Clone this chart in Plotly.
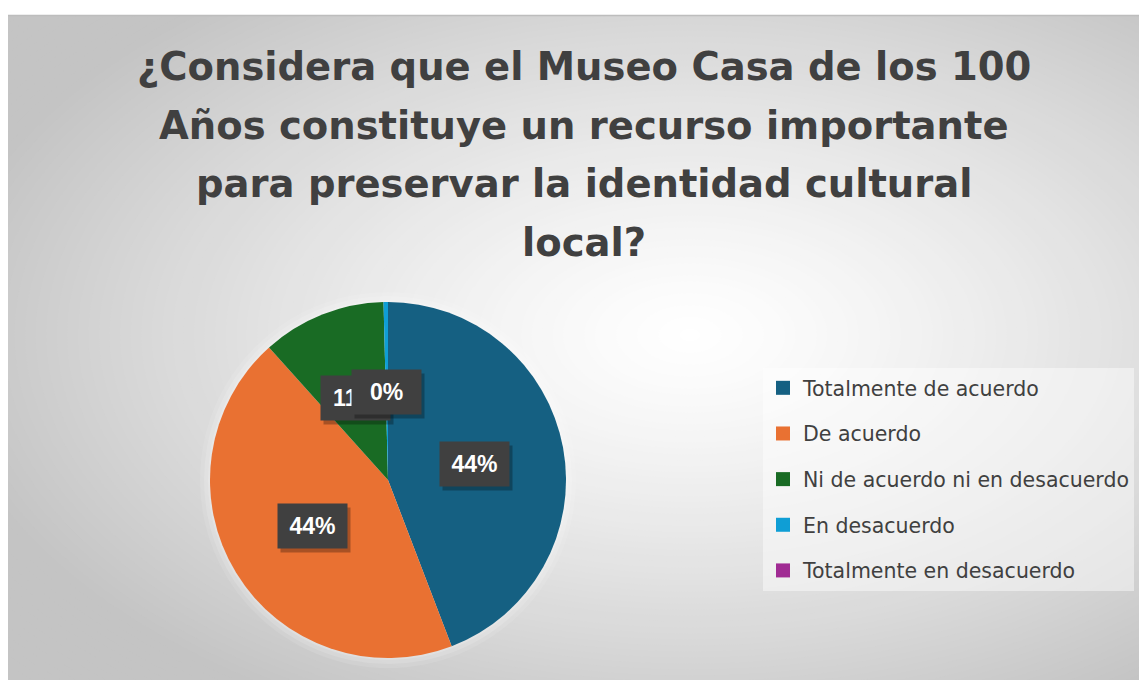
import math
import plotly.graph_objects as go

# ---- data ----
categories = [
    "Totalmente de acuerdo",
    "De acuerdo",
    "Ni de acuerdo ni en desacuerdo",
    "En desacuerdo",
    "Totalmente en desacuerdo",
]
values = [110, 110, 28, 1, 0]
colors = ["#156082", "#E97132", "#196B24", "#0F9ED5", "#A02B93"]
title_lines = [
    "¿Considera que el Museo Casa de los 100",
    "Años constituye un recurso importante",
    "para preservar la identidad cultural",
    "local?",
]

# ---- layout constants (pixels in the 1147x680 window) ----
OFF = 8                     # page body margin
W, H = 1147 - OFF, 680 - OFF
FY0 = 15                    # frame top (window px)
CX, CY, R = 388, 480, 178   # pie centre / radius (window px)
FONT = "Liberation Sans"
TFONT = "DejaVu Sans"
TXT = "#404040"


def px(x):
    return (x - OFF) / W


def py(y):
    return 1 - (y - OFF) / H


fig = go.Figure()

fig.add_trace(go.Pie(
    labels=categories,
    values=values,
    marker=dict(colors=colors, line=dict(width=0)),
    sort=False,
    direction="clockwise",
    rotation=0,
    textinfo="none",
    hoverinfo="label+percent",
    showlegend=False,
    domain=dict(x=[px(CX - R), px(CX + R)], y=[py(CY + R), py(CY - R)]),
))

# legend entries (one group each, so a gap can be set between them)
for i, (c, col) in enumerate(zip(categories, colors)):
    fig.add_trace(go.Scatter(
        x=[None], y=[None], mode="markers", name=c,
        marker=dict(symbol="square", size=14, color=col),
        legendgroup=f"g{i}", showlegend=True,
    ))

# ---- background: radial grey gradient ----
shapes = []
shapes.append(dict(type="rect", xref="paper", yref="paper", layer="below",
                   x0=-0.02, x1=1.02, y0=-0.02, y1=1.02,
                   fillcolor="rgb(196,196,196)", line=dict(width=0)))
gcx, gcy = 690, 335
RX, RY = 760, 430
steps = 90
c_out, c_in = 196, 255
for k in range(steps, 0, -1):
    f = k / steps * 1.25
    rx, ry = RX * f, RY * f
    d = min(f, 1.0)
    v = int(round(c_in - (c_in - c_out) * (d ** 1.25)))
    col = f"rgb({v},{v},{v})"
    shapes.append(dict(
        type="circle", xref="paper", yref="paper", layer="below",
        x0=px(gcx - rx), x1=px(gcx + rx), y0=py(gcy + ry), y1=py(gcy - ry),
        fillcolor=col, line=dict(width=0),
    ))
# soft halo round the pie
for k, a in enumerate([0.10, 0.14, 0.18]):
    rr = R + 10 - k * 4
    shapes.append(dict(
        type="circle", xref="paper", yref="paper", layer="below",
        x0=px(CX - rr), x1=px(CX + rr), y0=py(CY + rr), y1=py(CY - rr),
        fillcolor=f"rgba(255,255,255,{a})", line=dict(width=0),
    ))
# white above the frame
shapes.append(dict(type="rect", xref="paper", yref="paper", layer="below",
                   x0=-0.02, x1=1.02, y0=py(FY0), y1=1.02, fillcolor="white", line=dict(width=0)))
shapes.append(dict(type="line", xref="paper", yref="paper", layer="below",
                   x0=0, x1=1, y0=py(FY0 + 0.5), y1=py(FY0 + 0.5),
                   line=dict(color="#bdbdbd", width=1.5)))

annotations = []
# ---- title lines ----
title_y = [66, 125.5, 184, 242]
for line, ty in zip(title_lines, title_y):
    annotations.append(dict(
        text=f"<b>{line}</b>", x=px(584), y=py(ty), xref="paper", yref="paper",
        xanchor="center", yanchor="middle", showarrow=False,
        font=dict(family=TFONT, size=38.5, color=TXT),
    ))

# ---- data labels in dark boxes ----
total = sum(values)
cum = 0
for v in values:
    mid = (cum + v / 2) / total * 2 * math.pi
    cum += v
    if v == 0:
        continue
    lx = CX + 0.495 * R * math.sin(mid)
    ly = CY - 0.495 * R * math.cos(mid)
    pct = f"{round(v / total * 100)}%"
    annotations.append(dict(
        text=" ", x=px(lx), y=py(ly), xref="paper", yref="paper", showarrow=False,
        xanchor="center", yanchor="middle",
        width=67, height=42, bgcolor="rgba(0,0,0,0.28)", xshift=3, yshift=-4,
    ))
    annotations.append(dict(
        text=f"<b>{pct}</b>", x=px(lx), y=py(ly), xref="paper", yref="paper", showarrow=False,
        xanchor="center", yanchor="middle",
        width=67, height=42, bgcolor="#404040", align="center",
        font=dict(family=FONT, size=23, color="white"),
    ))

fig.update_layout(
    width=W, height=H,
    margin=dict(l=0, r=0, t=0, b=0),
    paper_bgcolor="white", plot_bgcolor="rgba(0,0,0,0)",
    xaxis=dict(visible=False, range=[0, 1]),
    yaxis=dict(visible=False, range=[0, 1]),
    shapes=shapes,
    annotations=annotations,
    showlegend=True,
    legend=dict(
        x=px(763), y=py(368), xanchor="left", yanchor="top",
        bgcolor="rgba(255,255,255,0.45)", borderwidth=0,
        font=dict(family=TFONT, size=20.5, color=TXT),
        tracegroupgap=16, itemsizing="trace", itemwidth=30,
    ),
)

fig.write_html("out.html")
